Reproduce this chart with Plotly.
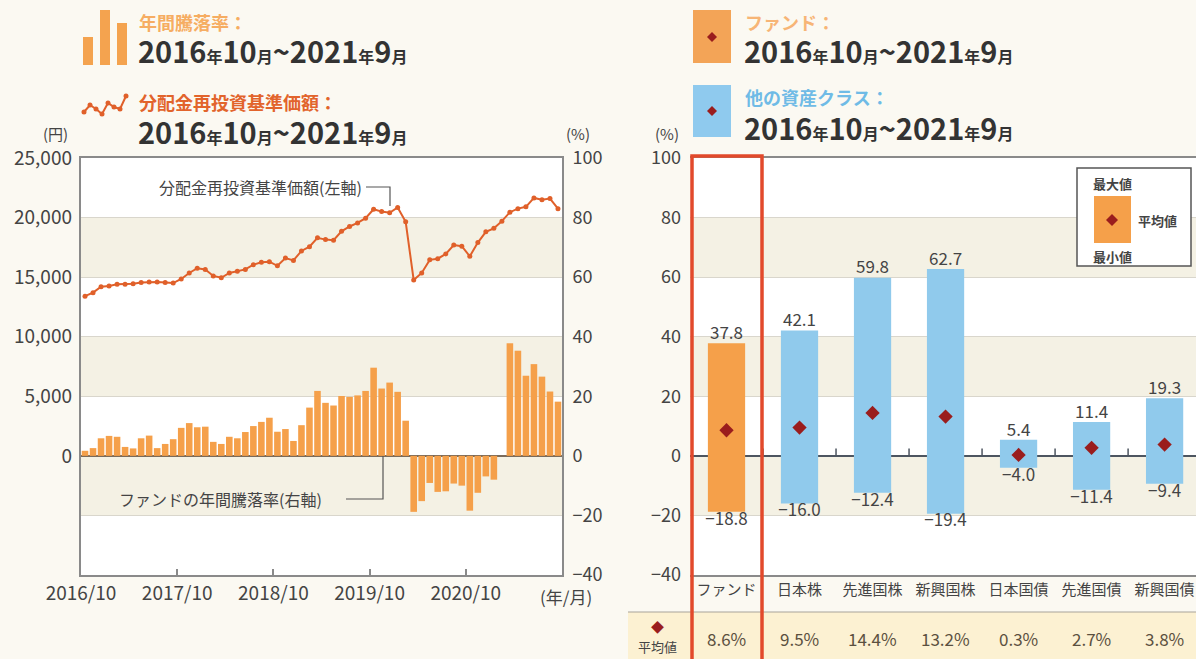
import plotly.graph_objects as go

W, H = 1196, 659
def px(x): return x / W
def py(y): return 1 - y / H

FONT = "Noto Sans CJK JP"

# ---------------- data ----------------
# Left chart: monthly, 2016/10 .. 2021/9 (60 months)
month_ticks = ["2016/10", "2017/10", "2018/10", "2019/10", "2020/10"]
annual_return = [
    1.7, 2.6, 5.9, 6.7, 6.4, 3.0, 2.5, 5.9, 6.8, 2.6, 4.0, 5.6,
    9.4, 11.0, 9.6, 9.8, 4.7, 4.0, 6.4, 5.9, 8.0, 10.0, 11.4, 12.8,
    8.1, 9.0, 5.0, 10.3, 16.2, 21.8, 17.8, 16.9, 20.1, 19.8, 20.3, 21.8,
    29.6, 22.6, 24.6, 21.5, 11.8, -18.8, -15.2, -9.1, -12.1, -11.9, -9.3, -10.0,
    -18.4, -12.4, -6.9, -8.0, 0.0, 37.8, 35.3, 26.9, 30.8, 26.6, 21.6, 18.2,
]
nav = [
    13400, 13700, 14200, 14250, 14400, 14400, 14450, 14550, 14600, 14600, 14550, 14500,
    14850, 15350, 15750, 15650, 15100, 14950, 15350, 15500, 15650, 16050, 16250, 16300,
    15950, 16600, 16400, 17200, 17550, 18300, 18150, 18100, 18850, 19250, 19550, 19950,
    20700, 20500, 20400, 20850, 19650, 14750, 15350, 16450, 16550, 16950, 17700, 17600,
    16750, 17900, 18800, 19100, 19700, 20450, 20750, 20900, 21650, 21500, 21600, 20750,
]
months = list(range(len(annual_return)))

# Right chart
categories = ["ファンド", "日本株", "先進国株", "新興国株", "日本国債", "先進国債", "新興国債"]
max_vals = [37.8, 42.1, 59.8, 62.7, 5.4, 11.4, 19.3]
min_vals = [-18.8, -16.0, -12.4, -19.4, -4.0, -11.4, -9.4]
avg_vals = [8.6, 9.5, 14.4, 13.2, 0.3, 2.7, 3.8]

# ---------------- colours ----------------
BG = "#fbf9f2"
BAND = "#f4f1e4"
ORANGE = "#f5a04a"
LINE = "#e0602a"
BLUE = "#90caec"
DIAMOND = "#9a1d1d"
RED = "#e2492b"
TXT = "#444444"
GRID = "#d9d6cc"

def mns(v):
    return f"{v:.1f}".replace("-", "−")

fig = go.Figure()

fig.add_trace(go.Bar(x=months, y=annual_return, marker=dict(color=ORANGE, line=dict(width=0)),
                     xaxis="x", yaxis="y", hoverinfo="y"))
fig.add_trace(go.Scatter(x=months, y=nav, mode="lines+markers",
                         line=dict(color=LINE, width=2),
                         marker=dict(color=LINE, size=5),
                         xaxis="x", yaxis="y2", hoverinfo="y"))

colors = [ORANGE] + [BLUE] * (len(categories) - 1)
fig.add_trace(go.Bar(x=categories, y=[a - b for a, b in zip(max_vals, min_vals)], base=min_vals,
                     marker=dict(color=colors, line=dict(width=0)), width=0.51,
                     xaxis="x2", yaxis="y3", hoverinfo="skip"))
fig.add_trace(go.Scatter(x=categories, y=avg_vals, mode="markers",
                         marker=dict(symbol="diamond", color=DIAMOND, size=11),
                         xaxis="x2", yaxis="y3"))
fig.add_trace(go.Scatter(x=categories, y=max_vals, mode="text", text=[mns(v) for v in max_vals],
                         textposition="top center", textfont=dict(size=17, color=TXT, family=FONT),
                         xaxis="x2", yaxis="y3"))
fig.add_trace(go.Scatter(x=categories, y=min_vals, mode="text", text=[mns(v) for v in min_vals],
                         textposition="bottom center", textfont=dict(size=17, color=TXT, family=FONT),
                         xaxis="x2", yaxis="y3"))

ydom = [py(575), py(158)]
tickfont = dict(family=FONT, size=18, color=TXT)
pct_ticks = [-40, -20, 0, 20, 40, 60, 80, 100]
pct_text = [str(v).replace("-", "−") for v in pct_ticks]

fig.update_layout(
    width=W, height=H, margin=dict(l=0, r=0, t=0, b=0, autoexpand=False),
    paper_bgcolor=BG, plot_bgcolor="white", showlegend=False,
    font=dict(family=FONT, color=TXT),
    bargap=0.18,
    xaxis=dict(domain=[px(81), px(562)], range=[-0.5, 59.5], anchor="y", automargin=False,
               tickvals=[-0.5, 11.5, 23.5, 35.5, 47.5], ticktext=month_ticks,
               ticks="inside", ticklen=6, tickcolor="#8a8a8a", tickwidth=1.5,
               showline=True, mirror=True, linecolor="#8a8a8a", linewidth=2,
               showgrid=False, zeroline=False, tickfont=dict(family=FONT, size=19, color=TXT)),
    yaxis=dict(domain=ydom, range=[-40, 100], side="right", anchor="x", automargin=False,
               tickvals=pct_ticks, ticktext=pct_text, ticks="", ticklabelstandoff=5,
               showgrid=True, gridcolor=GRID, gridwidth=1,
               zeroline=True, zerolinecolor="#7a6b5b", zerolinewidth=2,
               showline=True, mirror=True, linecolor="#8a8a8a", linewidth=2,
               tickfont=tickfont),
    yaxis2=dict(overlaying="y", side="left", range=[-10000, 25000], automargin=False,
                tickvals=[0, 5000, 10000, 15000, 20000, 25000], tickformat=",",
                ticklabelstandoff=8,
                showgrid=False, zeroline=False, ticks="", tickfont=dict(family=FONT, size=19, color=TXT)),
    xaxis2=dict(domain=[px(690), 1.0], range=[-0.5, 6.43], anchor="y3", automargin=False,
                type="category", showgrid=False, zeroline=False, ticks="",
                showline=True, mirror=True, linecolor="#8a8a8a", linewidth=1.5,
                tickfont=dict(family=FONT, size=15, color=TXT)),
    yaxis3=dict(domain=ydom, range=[-40, 100], anchor="x2", side="left", automargin=False,
                tickvals=pct_ticks, ticktext=pct_text, ticks="", ticklabelstandoff=8,
                showgrid=True, gridcolor=GRID, gridwidth=1,
                zeroline=True, zerolinecolor="#4d5560", zerolinewidth=1.5,
                showline=False, tickfont=tickfont),
)

shapes = []
for lo, hi in [(60, 80), (20, 40), (-20, 0)]:
    shapes.append(dict(type="rect", xref="x domain", yref="y", x0=0, x1=1, y0=lo, y1=hi,
                       fillcolor=BAND, line=dict(width=0), layer="below"))
    shapes.append(dict(type="rect", xref="x2 domain", yref="y3", x0=0, x1=1, y0=lo, y1=hi,
                       fillcolor=BAND, line=dict(width=0), layer="below"))
for b in [0.5, 1.5, 2.5, 3.5, 4.5, 5.5]:
    shapes.append(dict(type="line", xref="x2", yref="y3", x0=b, x1=b, y0=0, y1=2.5,
                       line=dict(color="#4d5560", width=1.5)))
shapes.append(dict(type="rect", xref="paper", yref="paper", x0=px(628), x1=1, y0=0, y1=py(612),
                   fillcolor="#fcf1d2", line=dict(width=0), layer="below"))
shapes.append(dict(type="line", xref="paper", yref="paper", x0=px(628), x1=1, y0=py(612), y1=py(612),
                   line=dict(color="#a8a39a", width=1.2)))
shapes.append(dict(type="rect", xref="paper", yref="paper", x0=px(692), x1=px(762), y0=py(662), y1=py(156),
                   line=dict(color=RED, width=3.5), fillcolor="rgba(0,0,0,0)"))
shapes.append(dict(type="rect", xref="paper", yref="paper", x0=px(1077), x1=px(1191), y0=py(266), y1=py(168),
                   line=dict(color="#555555", width=1.5), fillcolor="white"))
shapes.append(dict(type="rect", xref="paper", yref="paper", x0=px(1094), x1=px(1131), y0=py(243), y1=py(196),
                   line=dict(width=0), fillcolor=ORANGE))

def diamond(cx, cy, r):
    return dict(type="path", xref="paper", yref="paper",
                path=f"M {px(cx)} {py(cy-r)} L {px(cx+r)} {py(cy)} L {px(cx)} {py(cy+r)} L {px(cx-r)} {py(cy)} Z",
                fillcolor=DIAMOND, line=dict(width=0))
shapes.append(diamond(1112, 220, 6))

shapes.append(dict(type="path", xref="paper", yref="paper",
                   path=f"M {px(366)} {py(187)} L {px(390)} {py(187)} L {px(390)} {py(206)}",
                   line=dict(color="#555555", width=1.2)))
shapes.append(dict(type="path", xref="paper", yref="paper",
                   path=f"M {px(346)} {py(499)} L {px(383)} {py(499)} L {px(383)} {py(456)}",
                   line=dict(color="#555555", width=1.2)))

for x0, x1, y0 in [(83, 93, 37), (100, 110, 10), (117, 127, 23)]:
    shapes.append(dict(type="rect", xref="paper", yref="paper", x0=px(x0), x1=px(x1), y0=py(65), y1=py(y0),
                       fillcolor="#f4a34f", line=dict(width=0)))
pts = [(84, 112), (90, 105), (96, 109), (102, 114), (108, 103), (114, 107), (120, 109), (126, 96)]
path = "M " + " L ".join(f"{px(x)} {py(y)}" for x, y in pts)
shapes.append(dict(type="path", xref="paper", yref="paper", path=path, line=dict(color=LINE, width=2)))
for x, y in pts:
    shapes.append(dict(type="circle", xref="paper", yref="paper", x0=px(x-2.5), x1=px(x+2.5),
                       y0=py(y+2.5), y1=py(y-2.5), fillcolor=LINE, line=dict(width=0)))
shapes.append(dict(type="rect", xref="paper", yref="paper", x0=px(693), x1=px(731), y0=py(63), y1=py(10),
                   fillcolor="#f3a457", line=dict(width=0)))
shapes.append(diamond(712, 37, 5))
shapes.append(dict(type="rect", xref="paper", yref="paper", x0=px(693), x1=px(731), y0=py(137), y1=py(85),
                   fillcolor="#8fcaee", line=dict(width=0)))
shapes.append(diamond(712, 111, 5))
fig.update_layout(shapes=shapes)

ann = []
def A(x, y, text, size=15, color=TXT, anchor="left", **kw):
    ann.append(dict(x=px(x), y=py(y), xref="paper", yref="paper", text=text, showarrow=False,
                    xanchor=anchor, yanchor="middle", font=dict(family=FONT, size=size, color=color), **kw))

def date_text():
    s = "<span style='font-size:16px'>"
    return f"<b>2016{s}年</span>10{s}月</span>~2021{s}年</span>9{s}月</span></b>"

A(137, 22, "<b>年間騰落率：</b>", 18, "#f6ad62")
A(136, 50, date_text(), 29, "#333333")
A(137, 102, "<b>分配金再投資基準価額：</b>", 18, "#e2642c")
A(136, 131, date_text(), 29, "#333333")
A(743, 22, "<b>ファンド：</b>", 18, "#f7b576")
A(742, 50, date_text(), 29, "#333333")
A(743, 97, "<b>他の資産クラス：</b>", 18, "#6fbbe6")
A(742, 127, date_text(), 29, "#333333")

A(55, 133, "(円)", 15, TXT, "center")
A(578, 133, "(%)", 15, TXT, "center")
A(667, 133, "(%)", 15, TXT, "center")
A(566, 596, "(年/月)", 17, TXT, "center")

A(364, 187, "分配金再投資基準価額(左軸)", 16, TXT, "right")
A(117, 499, "ファンドの年間騰落率(右軸)", 16, TXT, "left")

A(1112, 183, "<b>最大値</b>", 13, TXT, "center")
A(1112, 256, "<b>最小値</b>", 13, TXT, "center")
A(1136, 220, "<b>平均値</b>", 13, TXT, "left")

A(657, 626, "◆", 13, DIAMOND, "center")
A(657, 646, "平均値", 13, TXT, "center")
for c, v in zip(categories, avg_vals):
    ann.append(dict(x=c, y=py(638), xref="x2", yref="paper", text=f"{v:.1f}%", showarrow=False,
                    xanchor="center", yanchor="middle", font=dict(family=FONT, size=17, color="#5b5040")))

fig.update_layout(annotations=ann)
fig.write_html("out.html", config={"displayModeBar": False},
               post_script="document.body.style.margin='0';document.body.style.overflow='hidden';")
